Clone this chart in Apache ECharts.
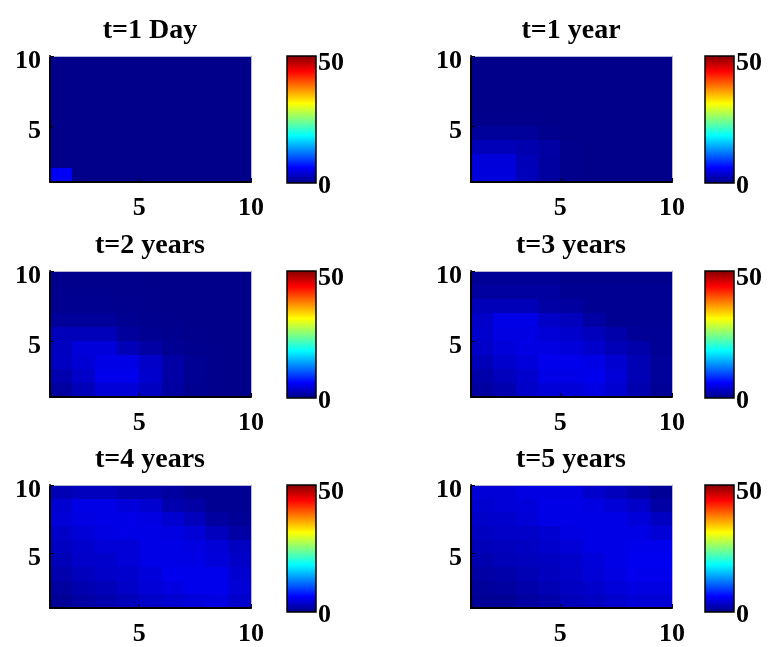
<!DOCTYPE html>
<html><head><meta charset="utf-8">
<script src="https://cdn.jsdelivr.net/npm/echarts@6/dist/echarts.min.js"></script>
<style>html,body{margin:0;padding:0;background:#fff}#c{width:771px;height:647px}</style>
</head><body><div id="c"></div>
<script>
// ---- data ----
const titles = ['t=1 Day', 't=1 year', 't=2 years', 't=3 years', 't=4 years', 't=5 years'];
const xTicks = [5, 10];
const yTicks = [5, 10];
const cbTicks = [0, 50];
const cMin = 0, cMax = 50;
// each grid: rows from top (y cell 9..10) to bottom (y cell 1..2), columns x cell 1..9
const day1 = [
  [0.5,0.5,0.5,0.5,0.5,0.5,0.5,0.5,0.5],
  [0.5,0.5,0.5,0.5,0.5,0.5,0.5,0.5,0.5],
  [0.5,0.5,0.5,0.5,0.5,0.5,0.5,0.5,0.5],
  [0.5,0.5,0.5,0.5,0.5,0.5,0.5,0.5,0.5],
  [0.5,0.5,0.5,0.5,0.5,0.5,0.5,0.5,0.5],
  [0.5,0.5,0.5,0.5,0.5,0.5,0.5,0.5,0.5],
  [0.5,0.5,0.5,0.5,0.5,0.5,0.5,0.5,0.5],
  [0.5,0.5,0.5,0.5,0.5,0.5,0.5,0.5,0.5],
  [5.8,0.5,0.5,0.5,0.5,0.5,0.5,0.5,0.5]
];
const year1 = [
  [0.5,0.5,0.5,0.5,0.5,0.5,0.5,0.5,0.5],
  [0.5,0.5,0.5,0.5,0.5,0.5,0.5,0.5,0.5],
  [0.5,0.5,0.5,0.5,0.5,0.5,0.5,0.5,0.5],
  [0.5,0.5,0.5,0.5,0.5,0.5,0.5,0.5,0.5],
  [0.6,0.6,0.6,0.5,0.5,0.5,0.5,0.5,0.5],
  [1.3,1.3,1.3,0.7,0.5,0.5,0.5,0.5,0.5],
  [2.8,2.8,2.3,1.7,0.6,0.5,0.5,0.5,0.5],
  [4.5,4.5,2.8,1.6,0.6,0.5,0.5,0.5,0.5],
  [4.6,4.6,2.9,1.6,0.6,0.5,0.5,0.5,0.5]
];
const year2 = [
  [0.6,0.6,0.6,0.6,0.5,0.5,0.5,0.5,0.5],
  [0.7,0.7,0.7,0.6,0.6,0.5,0.5,0.5,0.5],
  [0.8,0.8,0.8,0.7,0.6,0.5,0.5,0.5,0.5],
  [1.3,1.3,1.3,0.9,0.7,0.6,0.5,0.5,0.5],
  [2.9,2.9,2.9,1.4,0.9,0.7,0.6,0.5,0.5],
  [3.2,4.5,4.5,2.7,1.8,0.9,0.7,0.6,0.5],
  [3.3,4.2,5.0,5.0,3.6,1.8,0.9,0.6,0.5],
  [2.3,3.6,5.3,5.3,3.8,1.8,0.9,0.6,0.5],
  [1.6,2.8,4.3,4.3,3.2,1.6,0.8,0.6,0.5]
];
const year3 = [
  [1.1,1.1,1.1,1.1,0.7,0.7,0.7,0.7,0.7],
  [1.6,1.6,1.6,1.6,0.9,0.9,0.9,0.9,0.9],
  [2.8,2.8,2.8,1.8,1.6,0.9,0.9,0.9,0.9],
  [3.6,5.0,5.0,3.6,3.0,1.8,0.9,0.9,0.9],
  [3.8,4.8,4.8,4.3,3.8,3.0,2.1,1.1,1.1],
  [3.6,4.5,4.8,4.8,4.5,3.8,2.8,2.1,1.1],
  [2.8,3.8,4.5,5.3,5.3,5.0,4.0,2.6,1.3],
  [2.1,3.0,3.8,5.0,5.0,5.3,4.3,2.6,1.3],
  [1.6,2.3,3.6,4.3,4.3,4.8,4.0,2.3,1.1]
];
const year4 = [
  [2.6,3.0,3.0,2.3,2.3,1.6,0.9,0.9,0.9],
  [4.0,5.0,5.0,4.5,4.0,2.3,1.8,0.9,0.9],
  [4.3,4.8,5.0,5.0,4.8,4.0,3.0,1.6,1.1],
  [3.6,4.3,4.8,5.0,5.0,4.8,4.3,3.0,1.8],
  [3.3,3.8,4.3,4.3,5.0,5.0,4.8,4.3,3.3],
  [2.8,3.6,3.8,4.3,5.0,5.0,5.0,4.5,3.6],
  [2.3,3.0,3.6,3.8,4.5,5.3,5.3,5.3,4.0],
  [1.6,2.3,2.8,3.6,4.3,4.8,5.3,5.3,4.3],
  [1.1,1.8,2.3,2.8,3.6,4.0,4.5,4.8,3.8]
];
const year5 = [
  [4.3,4.3,4.8,4.8,4.8,3.8,3.0,2.1,1.1],
  [4.0,4.3,4.5,5.0,5.0,4.8,4.3,3.6,1.8],
  [3.6,3.8,4.3,5.0,5.0,5.0,5.0,4.5,3.3],
  [3.3,3.6,3.6,4.0,4.8,5.0,5.0,5.0,4.3],
  [2.8,3.0,3.3,3.8,4.3,5.0,5.0,5.3,5.3],
  [2.3,2.8,3.0,3.3,3.8,4.5,5.0,5.5,5.5],
  [1.8,2.1,2.6,3.0,3.6,4.3,4.8,5.3,5.3],
  [1.3,1.6,2.1,2.6,3.3,3.8,4.5,4.8,4.8],
  [1.1,1.1,1.6,2.1,2.8,3.3,3.8,4.3,4.3]
];
const panels = [day1, year1, year2, year3, year4, year5];

// ---- style ----
const jet = ['#000080','#0000ff','#0080ff','#00ffff','#80ff80','#ffff00','#ff8000','#ff0000','#800000'];
const FONT = 'Liberation Serif';
const colLeft = [50, 471], rowTop = [56, 271, 485], cbLeft = [287, 705];
const PW = 201, PH = 126, CBW = 29, CBH = 127;
const lab = {color:'#000', fontFamily:FONT, fontWeight:'bold', fontSize:26};

const grid = [], xAxis = [], yAxis = [], series = [], title = [];

function renderCell(params, api) {
  const x = api.value(0), y = api.value(1);
  const p0 = api.coord([x, y]), p1 = api.coord([x + 1, y + 1]);
  const x0 = Math.round(p0[0]), x1 = Math.round(p1[0]);
  const y0 = Math.round(p0[1]), y1 = Math.round(p1[1]);
  return {type:'rect', shape:{x:x0, y:y1, width:x1 - x0, height:y0 - y1},
          style:{fill: api.visual('color')}};
}
function renderBar(params, api) {
  const p0 = api.coord([api.value(0), api.value(2)]);
  const p1 = api.coord([api.value(1), api.value(3)]);
  const stops = jet.map((c, k) => ({offset: k / (jet.length - 1), color: c}));
  return {type:'rect', shape:{x:p0[0], y:p1[1], width:p1[0]-p0[0], height:p0[1]-p1[1]},
          style:{fill: new echarts.graphic.LinearGradient(0, 1, 0, 0, stops), stroke:'#000', lineWidth:1.5}};
}

panels.forEach((rows, i) => {
  const col = i % 2, row = Math.floor(i / 2);
  const left = colLeft[col], top = rowTop[row];
  const g = grid.length;
  grid.push({left: left, top: top, width: PW, height: PH, containLabel: false});
  grid.push({left: cbLeft[col], top: top, width: CBW, height: CBH, containLabel: false});

  const xi = xAxis.length;
  xAxis.push({type:'value', gridIndex:g, min:1, max:10, position:'bottom', z:10,
    axisLine:{show:true, onZero:false, lineStyle:{color:'#000', width:2}},
    axisTick:{show:true, inside:true, length:4, customValues:xTicks, lineStyle:{color:'#000'}},
    axisLabel:Object.assign({customValues:xTicks, margin:13, lineHeight:26}, lab),
    splitLine:{show:false}});
  xAxis.push({type:'value', gridIndex:g, min:1, max:10, position:'top', z:10,
    axisLine:{show:true, onZero:false, lineStyle:{color:'#b4b4dc', width:1}},
    axisTick:{show:false}, axisLabel:{show:false}, splitLine:{show:false}});
  xAxis.push({type:'value', gridIndex:g + 1, min:0, max:1, show:false});

  const yi = yAxis.length;
  yAxis.push({type:'value', gridIndex:g, min:1, max:10, position:'left', z:10,
    axisLine:{show:true, onZero:false, lineStyle:{color:'#000', width:2}},
    axisTick:{show:true, inside:true, length:4, customValues:yTicks, lineStyle:{color:'#000'}},
    axisLabel:Object.assign({customValues:yTicks, margin:9, verticalAlign:'top', lineHeight:10}, lab),
    splitLine:{show:false}});
  yAxis.push({type:'value', gridIndex:g, min:1, max:10, position:'right', z:10,
    axisLine:{show:true, onZero:false, lineStyle:{color:'#b4b4dc', width:1}},
    axisTick:{show:false}, axisLabel:{show:false}, splitLine:{show:false}});
  yAxis.push({type:'value', gridIndex:g + 1, min:cMin, max:cMax, position:'right',
    axisLine:{show:false}, axisTick:{show:false}, splitLine:{show:false},
    axisLabel:Object.assign({customValues:cbTicks, margin:2, verticalAlign:'top', lineHeight:10,
      formatter: v => (v === cMax ? '{hi|' + v + '}' : '{lo|' + v + '}'),
      rich:{hi:Object.assign({lineHeight:14}, lab), lo:Object.assign({lineHeight:7}, lab)}}, lab)});

  const data = [];
  rows.forEach((r, ri) => r.forEach((v, ci) => data.push([ci + 1, rows.length - ri, v])));
  series.push({type:'custom', xAxisIndex:xi, yAxisIndex:yi, renderItem:renderCell,
    encode:{x:0, y:1}, data:data, silent:true});

  title.push({text: titles[i], left: left + 95, top: top - 44, textAlign:'center',
    textStyle:{color:'#000', fontFamily:FONT, fontWeight:'bold', fontSize:28, lineHeight:28}});
});

panels.forEach((rows, i) => {
  series.push({type:'custom', xAxisIndex:i * 3 + 2, yAxisIndex:i * 3 + 2, renderItem:renderBar,
    encode:{x:[0,1], y:[2,3]}, data:[[0, 1, cMin, cMax]], silent:true});
});

const chart = echarts.init(document.getElementById('c'), null, {renderer:'canvas'});
chart.setOption({
  backgroundColor:'#fff',
  animation:false,
  title: title,
  grid: grid,
  xAxis: xAxis,
  yAxis: yAxis,
  visualMap: {type:'continuous', show:false, min:cMin, max:cMax, dimension:2,
    seriesIndex:[0,1,2,3,4,5], inRange:{color:jet}},
  series: series
});
</script></body></html>
